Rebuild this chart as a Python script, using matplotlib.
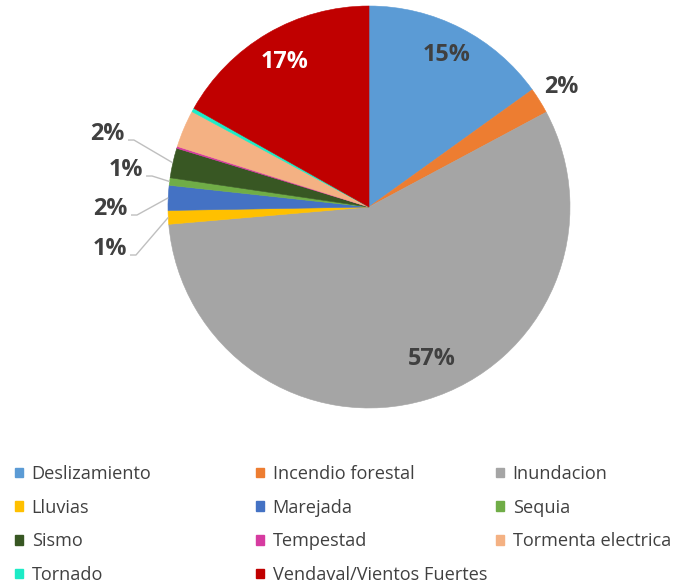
import matplotlib
matplotlib.use("Agg")
import matplotlib.pyplot as plt
from matplotlib.patches import Patch
import numpy as np

plt.rcParams['font.family'] = ['Open Sans', 'DejaVu Sans']

# ---- data ----
categories = ["Deslizamiento", "Incendio forestal", "Inundacion", "Lluvias", "Marejada",
              "Sequia", "Sismo", "Tempestad", "Tormenta electrica", "Tornado",
              "Vendaval/Vientos Fuertes"]
shares = [15.1, 2.1, 56.5, 1.1, 2.0, 0.6, 2.4, 0.15, 3.0, 0.3, 16.85]
pct_labels = ["15%", "2%", "57%", "1%", "2%", "1%", "2%", "", "", "", "17%"]
colors = ["#5B9BD5", "#ED7D31", "#A5A5A5", "#FFC000", "#4472C4", "#70AD47",
          "#385723", "#D63BA0", "#F4B183", "#1DEBC6", "#C00000"]

# ---- layout ----
W, H = 674, 585
fig = plt.figure(figsize=(W / 100, H / 100), dpi=100)
ax = fig.add_axes([0, 0, 1, 1])
cx, cy, R = 369, H - 207, 201

wedges, _ = ax.pie(shares, colors=colors, startangle=90, counterclock=False,
                   radius=R, center=(cx, cy), wedgeprops=dict(linewidth=0.4))
for w in wedges:
    w.set_edgecolor(w.get_facecolor())

ax.set_xlim(0, W)
ax.set_ylim(0, H)
ax.set_aspect('equal')
ax.axis('off')

label_color = "#404040"
pct_font = dict(fontsize=16.8, fontweight='bold')

def mid_angle(w):
    return np.deg2rad((w.theta1 + w.theta2) / 2)

# inside / outside labels (radius fraction, angle offset deg)
radial = {0: (0.85, 0, label_color), 1: (1.13, 0, label_color),
          2: (0.82, 6, label_color), 10: (0.835, 0, "white")}
for i, (rf, off, col) in radial.items():
    a = mid_angle(wedges[i]) + np.deg2rad(off)
    ax.text(cx + rf * R * np.cos(a), cy + rf * R * np.sin(a), pct_labels[i],
            ha='center', va='center', color=col, **pct_font)

# callout labels on left (label right edge, centre y in radius units)
callouts = {3: (-1.204, -0.209), 4: (-1.199, -0.01), 5: (-1.124, 0.184), 6: (-1.214, 0.363)}
for i, (lx, ly) in callouts.items():
    tx, ty = cx + lx * R, cy + ly * R
    ax.text(tx, ty, pct_labels[i], ha='right', va='center', color=label_color, **pct_font)
    a = mid_angle(wedges[i])
    ex, ey = cx + R * np.cos(a), cy + R * np.sin(a)
    sx, sy = tx + 3, ty - 6
    ax.plot([sx, sx + 6, ex], [sy, sy, ey], color="#BFBFBF", lw=1, solid_capstyle='butt')

# legend in three columns (row-wise order)
handles = [Patch(facecolor=c, edgecolor=c, label=n) for c, n in zip(colors, categories)]
col_x = [15, 256, 496]
for k in range(3):
    hs = handles[k::3]
    fig.legend(handles=hs, loc='upper left', bbox_to_anchor=(col_x[k] / W, 1 - 465 / H),
               frameon=False, borderpad=0, borderaxespad=0, fontsize=13.1,
               handlelength=0.42, handleheight=0.42, handletextpad=0.5,
               labelspacing=0.86, labelcolor="#404040")

fig.savefig("out.png", dpi=100)
